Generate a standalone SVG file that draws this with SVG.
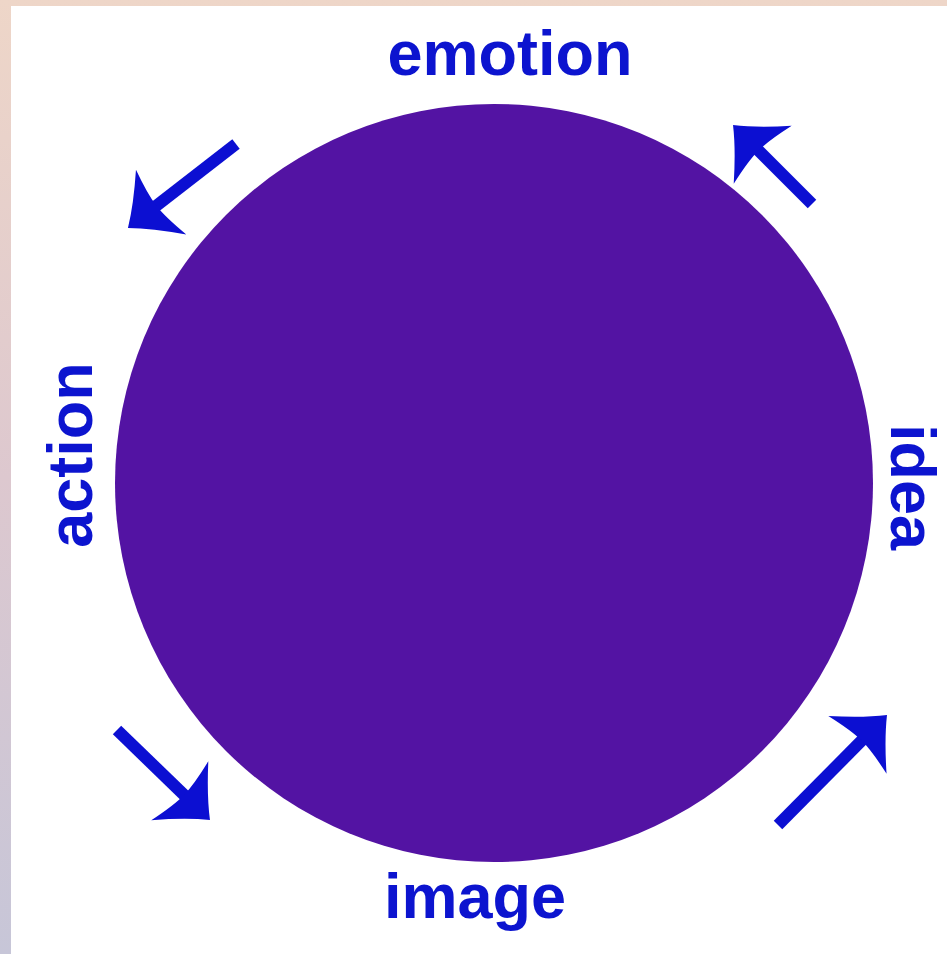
<svg xmlns="http://www.w3.org/2000/svg" width="947" height="954" viewBox="0 0 947 954">
  <defs>
    <linearGradient id="bg" x1="0" y1="0" x2="0" y2="1">
      <stop offset="0" stop-color="#EED6C8"/>
      <stop offset="0.5" stop-color="#DDC8CF"/>
      <stop offset="1" stop-color="#C7C6D8"/>
    </linearGradient>
    <marker id="head" markerUnits="userSpaceOnUse" viewBox="-25 -45 55 90" refX="0" refY="0" markerWidth="55" markerHeight="90" orient="auto" overflow="visible">
      <path d="M25,0 Q6,-15 -17,-41 Q-11,-14 -11,0 Q-11,14 -17,41 Q6,15 25,0 Z" fill="#0C0FD2"/>
    </marker>
    <style>
      .lbl { font-family: "Liberation Sans", Arial, sans-serif; font-weight: bold; font-size: 63px; fill: #0C14CF; text-anchor: middle; }
      .arr { stroke: #0C0FD2; stroke-width: 12; fill: none; marker-end: url(#head); }
    </style>
  </defs>
  <rect x="0" y="0" width="947" height="954" fill="url(#bg)"/>
  <rect x="11" y="6" width="936" height="948" fill="#FFFFFF"/>

  <g id="cycle">
    <circle cx="494" cy="483" r="379" fill="#5313A3"/>
  </g>

  <g id="emotion">
    <text class="lbl" x="510" y="75">emotion</text>
  </g>
  <g id="idea">
    <text class="lbl" transform="translate(891,487) rotate(90)" x="0" y="0">idea</text>
  </g>
  <g id="image">
    <text class="lbl" x="475" y="918">image</text>
  </g>
  <g id="action">
    <text class="lbl" transform="translate(92,455) rotate(-90)" x="0" y="0">action</text>
  </g>

  <g id="connectors">
    <line class="arr" x1="236" y1="144" x2="147.7" y2="212.6"/>
    <line class="arr" x1="812" y1="204" x2="750.7" y2="142.7"/>
    <line class="arr" x1="117" y1="730" x2="192" y2="802.6"/>
    <line class="arr" x1="778" y1="825" x2="869.4" y2="732.8"/>
  </g>
</svg>
